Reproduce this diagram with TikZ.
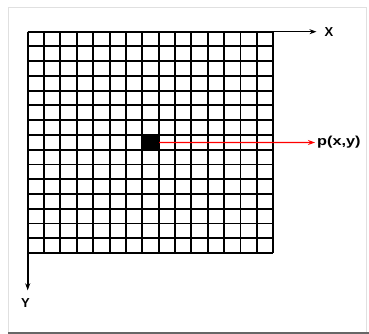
\documentclass[tikz,border=0pt]{standalone}
\usepackage{fontspec}
\setmainfont{Liberation Sans}
\usetikzlibrary{arrows.meta}
\tikzset{>={Stealth[length=7pt,width=5pt]}}
\tikzset{
  gridline/.style={line width=1.9pt, black},
  axislabel/.style={font=\fontsize{13}{13}\selectfont\bfseries, inner sep=0pt},
}

\begin{document}
\begin{tikzpicture}[x=1pt, y=-1pt]
  \useasboundingbox (0,0) rectangle (369,334);
  % marco
  \draw[black!12, line width=0.8pt] (8,7) rectangle (366,332);
  \draw[black!60, line width=1.5pt] (8,333) -- (369,333);
  % rejilla de 15x15 celdas
  \foreach \i in {0,...,15} {
    \draw[gridline] ({27.7+\i*16.37},31.7) -- ({27.7+\i*16.37},253);
    \draw[gridline] (27.7,{31.7+\i*14.75}) -- (273.3,{31.7+\i*14.75});
  }
  % celda marcada
  \node[fill=black, minimum width=16.37pt, minimum height=14.75pt,
        inner sep=0pt, anchor=north west] (pixel) at ({27.7+7*16.37},{31.7+7*14.75}) {};
  % ejes
  \coordinate (o) at (27.7,31.7);
  \node[axislabel] (xlab) at (329,31.7) {X};
  \node[axislabel] (ylab) at (25.5,303) {Y};
  \draw[->, line width=0.9pt, shorten >=8pt] (o) -- (xlab.west);
  \draw[->, line width=1.8pt, shorten >=8pt] (o) -- (o |- ylab.north);
  % punto p(x,y)
  \node[axislabel, anchor=west] (plab) at (317,142.5) {\scalebox{1.25}[1]{p(x,y)}};
  \draw[->, red, line width=1.4pt, shorten >=2pt] (pixel.east) -- (plab.west);
\end{tikzpicture}
\end{document}
